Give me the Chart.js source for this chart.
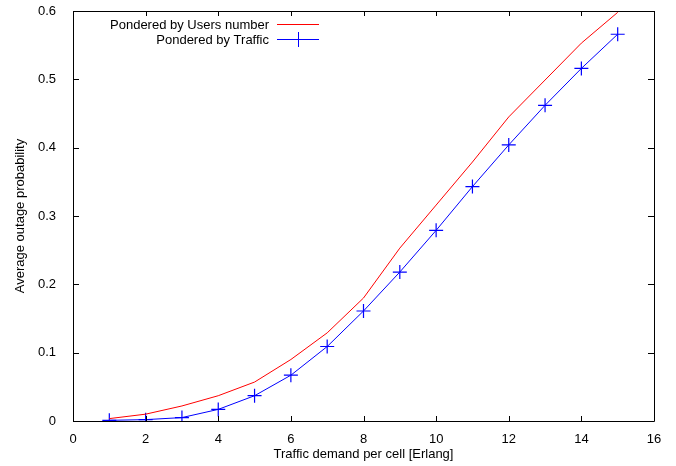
<!DOCTYPE html>
<html>
<head>
<meta charset="utf-8">
<script src="https://cdn.jsdelivr.net/npm/chart.js@4"></script>
<style>
  html, body { margin: 0; padding: 0; background: #fff; }
  #wrap { width: 676px; height: 466px; }
</style>
</head>
<body>
<div id="wrap"><canvas id="plot"></canvas></div>
<script>
// traffic per cell [Erlang]
const traffic = [1, 2, 3, 4, 5, 6, 7, 8, 9, 10, 11, 12, 13, 14, 15];
const byUsers = [0.0035, 0.010, 0.022, 0.037, 0.057, 0.090, 0.129, 0.180, 0.253, 0.316, 0.379, 0.445, 0.499, 0.553, 0.598];
const byTraffic = [0.001, 0.002, 0.005, 0.017, 0.037, 0.067, 0.109, 0.161, 0.218, 0.279, 0.343, 0.404, 0.462, 0.516, 0.566];
const xTicks = [0, 2, 4, 6, 8, 10, 12, 14, 16];
const yTicks = [0, 0.1, 0.2, 0.3, 0.4, 0.5, 0.6];

const FONT = "'Liberation Sans', Arial, sans-serif";

// gnuplot-like frame, inner ticks and legend
const framePlugin = {
  id: "frame",
  afterDraw(chart) {
    const { ctx, chartArea: a, scales } = chart;
    ctx.save();
    ctx.strokeStyle = "#000";
    ctx.lineWidth = 1;
    ctx.beginPath();
    ctx.rect(a.left + 0.5, a.top + 0.5, a.right - a.left, a.bottom - a.top);
    xTicks.forEach(v => {
      const px = Math.round(scales.x.getPixelForValue(v)) + 0.5;
      ctx.moveTo(px, a.bottom); ctx.lineTo(px, a.bottom - 5);
      ctx.moveTo(px, a.top); ctx.lineTo(px, a.top + 5);
    });
    yTicks.forEach(v => {
      const py = Math.round(scales.y.getPixelForValue(v)) + 0.5;
      ctx.moveTo(a.left, py); ctx.lineTo(a.left + 6, py);
      ctx.moveTo(a.right, py); ctx.lineTo(a.right - 6, py);
    });
    ctx.stroke();
    ctx.restore();

    // legend
    const rows = [
      { label: "Pondered by Users number", color: "#ff0000", marker: false, y: 24 },
      { label: "Pondered by Traffic", color: "#0000ff", marker: true, y: 39 }
    ];
    rows.forEach(r => {
      ctx.save();
      ctx.font = "13px " + FONT;
      ctx.fillStyle = "#000";
      ctx.textAlign = "right";
      ctx.textBaseline = "alphabetic";
      ctx.fillText(r.label, 269, r.y + 4.5);
      ctx.strokeStyle = r.color;
      ctx.lineWidth = 1;
      ctx.beginPath();
      ctx.moveTo(277, r.y + 0.5);
      ctx.lineTo(319, r.y + 0.5);
      if (r.marker) {
        ctx.moveTo(298.5, r.y - 7);
        ctx.lineTo(298.5, r.y + 8);
        ctx.moveTo(291, r.y + 0.5);
        ctx.lineTo(306, r.y + 0.5);
      }
      ctx.stroke();
      ctx.restore();
    });
  }
};

new Chart(document.getElementById("plot"), {
  type: "line",
  data: {
    datasets: [
      {
        label: "Pondered by Users number",
        data: traffic.map((x, i) => ({ x, y: byUsers[i] })),
        borderColor: "#ff0000",
        borderWidth: 1,
        pointRadius: 0,
        tension: 0
      },
      {
        label: "Pondered by Traffic",
        data: traffic.map((x, i) => ({ x, y: byTraffic[i] })),
        borderColor: "#0000ff",
        borderWidth: 1,
        pointStyle: "cross",
        pointRadius: 7,
        pointBorderColor: "#0000ff",
        pointBorderWidth: 1.2,
        tension: 0
      }
    ]
  },
  options: {
    responsive: true,
    maintainAspectRatio: false,
    animation: false,
    layout: { padding: { top: 11, right: 22, left: 0, bottom: 0 } },
    plugins: {
      legend: { display: false },
      tooltip: { enabled: false }
    },
    scales: {
      x: {
        type: "linear",
        min: 0,
        max: 16,
        afterBuildTicks: s => { s.ticks = xTicks.map(v => ({ value: v })); },
        afterFit: s => { s.height = 45; s.paddingLeft = 0; s.paddingRight = 0; },
        grid: { display: false },
        border: { display: false },
        ticks: { color: "#000", font: { family: FONT, size: 13 }, padding: 3 },
        title: { display: true, text: "Traffic demand per cell [Erlang]", color: "#000", font: { family: FONT, size: 13 }, padding: { top: 0 } }
      },
      y: {
        type: "linear",
        min: 0,
        max: 0.6,
        afterBuildTicks: s => { s.ticks = yTicks.map(v => ({ value: v })); },
        afterFit: s => { s.width = 73; s.paddingTop = 0; s.paddingBottom = 0; },
        grid: { display: false },
        border: { display: false },
        ticks: {
          color: "#000",
          font: { family: FONT, size: 13 },
          padding: 9,
          callback: v => String(Math.round(v * 10) / 10)
        },
        title: { display: true, text: "Average outage probability", color: "#000", font: { family: FONT, size: 13 }, padding: { top: 13, bottom: 0 } }
      }
    }
  },
  plugins: [framePlugin]
});
</script>
</body>
</html>
